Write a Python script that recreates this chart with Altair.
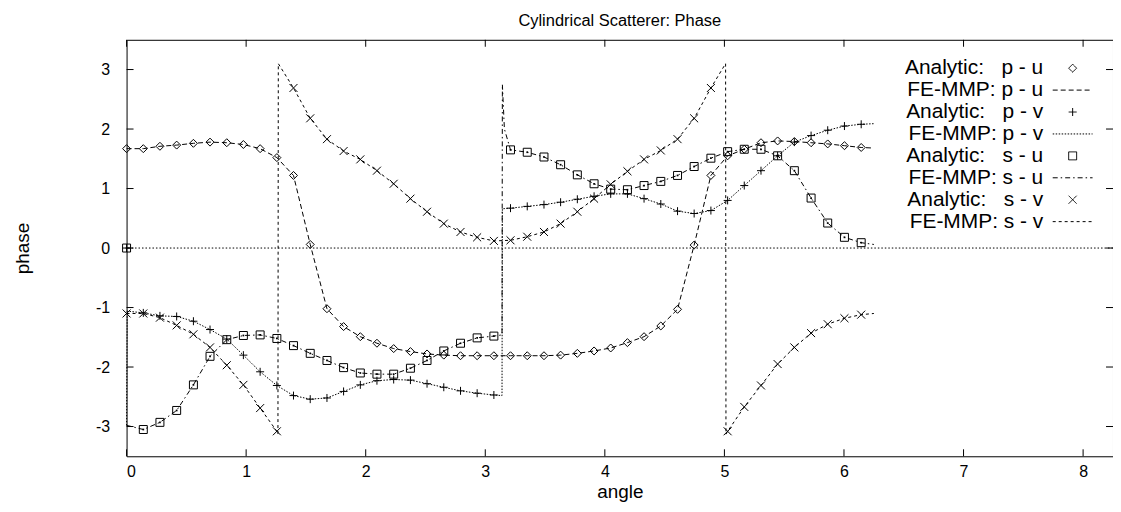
import altair as alt
import pandas as pd

# ---------------- data ----------------
angles = [0.000, 0.140, 0.279, 0.419, 0.559, 0.698, 0.838, 0.977, 1.117, 1.257,
          1.396, 1.536, 1.676, 1.815, 1.955, 2.094, 2.234, 2.374, 2.513, 2.653,
          2.793, 2.932, 3.072, 3.211, 3.351, 3.491, 3.630, 3.770, 3.910, 4.049,
          4.189, 4.328, 4.468, 4.608, 4.747, 4.887, 5.027, 5.166, 5.306, 5.445,
          5.585, 5.725, 5.864, 6.004, 6.144]

pu = [1.67, 1.67, 1.71, 1.73, 1.76, 1.78, 1.77, 1.74, 1.67, 1.52, 1.22, 0.06,
      -1.02, -1.32, -1.49, -1.60, -1.69, -1.74, -1.78, -1.80, -1.81, -1.81, -1.81,
      -1.81, -1.81, -1.81, -1.80, -1.77, -1.73, -1.68, -1.59, -1.49, -1.31, -1.03,
      0.05, 1.22, 1.55, 1.66, 1.77, 1.80, 1.79, 1.77, 1.75, 1.72, 1.69]
pv = [0.00, -1.09, -1.14, -1.15, -1.23, -1.37, -1.53, -1.80, -2.08, -2.31, -2.48,
      -2.54, -2.52, -2.41, -2.30, -2.23, -2.21, -2.22, -2.28, -2.34, -2.40, -2.44,
      -2.47, 0.67, 0.70, 0.73, 0.77, 0.82, 0.87, 0.91, 0.91, 0.83, 0.74, 0.62, 0.58,
      0.63, 0.80, 1.05, 1.30, 1.55, 1.78, 1.89, 1.98, 2.05, 2.08]
su = [0.00, -3.05, -2.93, -2.73, -2.30, -1.82, -1.54, -1.47, -1.46, -1.52, -1.64,
      -1.77, -1.89, -2.01, -2.10, -2.12, -2.12, -2.02, -1.89, -1.73, -1.60, -1.51,
      -1.48, 1.65, 1.61, 1.53, 1.40, 1.23, 1.08, 0.99, 0.98, 1.05, 1.12, 1.22, 1.37,
      1.51, 1.62, 1.66, 1.66, 1.55, 1.30, 0.84, 0.42, 0.18, 0.09]
sv = [-1.10, -1.10, -1.17, -1.30, -1.45, -1.67, -1.97, -2.30, -2.69, -3.08, 2.69,
      2.18, 1.83, 1.63, 1.49, 1.30, 1.08, 0.83, 0.61, 0.41, 0.27, 0.18, 0.12, 0.13,
      0.19, 0.27, 0.41, 0.61, 0.83, 1.07, 1.29, 1.49, 1.64, 1.83, 2.18, 2.69, -3.08,
      -2.67, -2.31, -1.95, -1.67, -1.43, -1.28, -1.18, -1.12]

# FE-MMP curves: same samples, plus the extra points seen at the jumps / ends
fe_end_x = 6.25
fe_pu_end = 1.68
fe_pv_start_x = [0.000, 0.005]
fe_pv_start_y = [-2.98, -1.06]
fe_pv_jump_x = [3.140, 3.143]
fe_pv_jump_y = [-2.48, 0.66]
fe_pv_end = 2.09
fe_su_start_y = -2.98
fe_su_jump_x = [3.140, 3.143, 3.160]
fe_su_jump_y = [-1.46, 2.75, 2.00]
fe_su_end = 0.06
fe_sv_jump1_x = [1.266, 1.269]
fe_sv_jump1_y = [-3.13, 3.10]
fe_sv_jump2_x = [5.010, 5.013]
fe_sv_jump2_y = [3.10, -3.13]
fe_sv_end = -1.10

labels = ["Analytic:\u00a0\u00a0 p - u", "FE-MMP: p - u",
          "Analytic:\u00a0\u00a0 p - v", "FE-MMP: p - v",
          "Analytic:\u00a0\u00a0 s - u", "FE-MMP: s - u",
          "Analytic:\u00a0\u00a0 s - v", "FE-MMP: s - v"]

x_ticks = [0, 1, 2, 3, 4, 5, 6, 7, 8]
y_ticks = [-3, -2, -1, 0, 1, 2, 3]

# ---------------- tables ----------------
rows = []
for name, vals in zip([labels[0], labels[2], labels[4], labels[6]], [pu, pv, su, sv]):
    for a, v in zip(angles, vals):
        rows.append({"angle": a, "phase": v, "series": name})
pts = pd.DataFrame(rows)
su_pts = pd.DataFrame({"angle": angles, "phase": su})

def fe(name, xs, ys):
    return [{"angle": a, "phase": v, "series": name} for a, v in zip(xs, ys)]

lrows = []
lrows += fe(labels[1], angles + [fe_end_x], pu + [fe_pu_end])
lrows += fe(labels[3], fe_pv_start_x + angles[1:] + fe_pv_jump_x + [fe_end_x],
            fe_pv_start_y + pv[1:] + fe_pv_jump_y + [fe_pv_end])
lrows += fe(labels[5], angles + fe_su_jump_x + [fe_end_x],
            [fe_su_start_y] + su[1:] + fe_su_jump_y + [fe_su_end])
lrows += fe(labels[7], angles + fe_sv_jump1_x + fe_sv_jump2_x + [fe_end_x],
            sv + fe_sv_jump1_y + fe_sv_jump2_y + [fe_sv_end])
lines = pd.DataFrame(lrows).sort_values(["series", "angle"])

xt = pd.DataFrame({"t": x_ticks})
yt = pd.DataFrame({"t": y_ticks})

# ---------------- styling ----------------
FONT = "Liberation Sans"
W, H = 990, 418
xscale = alt.Scale(domain=[0, 8.25], nice=False, zero=False)
yscale = alt.Scale(domain=[-3.5, 3.5], nice=False, zero=False)
xaxis = alt.Axis(title="angle", values=x_ticks, labelPadding=7, titlePadding=3,
                 grid=False, domain=False, ticks=False)
yaxis = alt.Axis(title="phase", values=y_ticks, labelPadding=17, titlePadding=63,
                 labelExpr="'' + datum.value", grid=False, domain=False, ticks=False)

shape_range = ["diamond", "M-5,0H5", "M-1,0H1M0,-1V1", "M-5,0H5",
               "square", "M-5,0H5", "M-1,-1L1,1M-1,1L1,-1", "M-5,0H5"]
dash_range = [[1, 0], [5, 3], [1, 0], [1.5, 1.5],
              [1, 0], [5, 3, 1.5, 3], [1, 0], [3, 3]]

LAB_OFF = alt.ExprRef(expr="-40")
SYM_OFF = 162
legend = alt.Legend(title=None, orient="none", legendX=777, legendY=18,
                    labelAlign="right", labelOffset=LAB_OFF, symbolOffset=SYM_OFF,
                    labelFont=FONT, labelFontSize=21, labelColor="black",
                    labelLimit=400, rowPadding=0, padding=0, symbolSize=64,
                    symbolStrokeColor="black", symbolStrokeWidth=1,
                    symbolFillColor="transparent")

zero = alt.Chart(pd.DataFrame({"z": [0]})).mark_rule(
    color="black", strokeWidth=1, strokeDash=[1.5, 2]
).encode(y=alt.Y("z:Q", scale=yscale, axis=yaxis))

tick_b = alt.Chart(xt).mark_rule(color="black", strokeWidth=1).encode(
    x=alt.X("t:Q", scale=xscale, axis=xaxis), y=alt.value(H), y2=alt.value(H - 7))
tick_t = alt.Chart(xt).mark_rule(color="black", strokeWidth=1).encode(
    x=alt.X("t:Q", scale=xscale, axis=xaxis), y=alt.value(0), y2=alt.value(7))
tick_l = alt.Chart(yt).mark_rule(color="black", strokeWidth=1).encode(
    y=alt.Y("t:Q", scale=yscale, axis=yaxis), x=alt.value(0), x2=alt.value(7))
tick_r = alt.Chart(yt).mark_rule(color="black", strokeWidth=1).encode(
    y=alt.Y("t:Q", scale=yscale, axis=yaxis), x=alt.value(W - 7), x2=alt.value(W))

line_layer = alt.Chart(lines).mark_line(color="black", strokeWidth=1).encode(
    x=alt.X("angle:Q", scale=xscale, axis=xaxis),
    y=alt.Y("phase:Q", scale=yscale, axis=yaxis),
    strokeDash=alt.StrokeDash("series:N", scale=alt.Scale(domain=labels, range=dash_range),
                              legend=legend),
    order=alt.Order("angle:Q"),
)

point_layer = alt.Chart(pts).mark_point(filled=False, color="black", strokeWidth=1,
                                        size=64, opacity=1).encode(
    x=alt.X("angle:Q", scale=xscale, axis=xaxis),
    y=alt.Y("phase:Q", scale=yscale, axis=yaxis),
    shape=alt.Shape("series:N", scale=alt.Scale(domain=labels, range=shape_range),
                    legend=legend),
)

# small centre dot inside the square markers
dot_layer = alt.Chart(su_pts).mark_point(filled=True, color="black", shape="square",
                                         size=3, opacity=1).encode(
    x=alt.X("angle:Q", scale=xscale, axis=xaxis),
    y=alt.Y("phase:Q", scale=yscale, axis=yaxis),
)

chart = alt.layer(zero, tick_b, tick_t, tick_l, tick_r, line_layer, point_layer,
                  dot_layer).properties(
    width=W, height=H,
    background="white",
    autosize=alt.AutoSizeParams(type="none"),
    padding={"left": 119, "top": 31, "right": 0, "bottom": 49},
    title=alt.TitleParams("Cylindrical Scatterer: Phase", font=FONT, fontSize=16.5,
                          fontWeight="normal", color="black", offset=10, anchor="middle"),
).configure_view(stroke="black", strokeWidth=1).configure_axis(
    domain=False, ticks=False, tickSize=0, grid=False,
    labelFont=FONT, labelFontSize=16, labelColor="black",
    titleFont=FONT, titleFontSize=19, titleFontWeight="normal", titleColor="black",
).configure_legend(
    labelAlign="right", labelOffset=LAB_OFF, symbolOffset=SYM_OFF,
    labelFont=FONT, labelFontSize=21, labelColor="black", labelLimit=400,
    rowPadding=0, padding=0, symbolSize=64, symbolStrokeColor="black",
    symbolStrokeWidth=1,
)

chart.save("out.html", embed_options={"renderer": "svg", "actions": False})
